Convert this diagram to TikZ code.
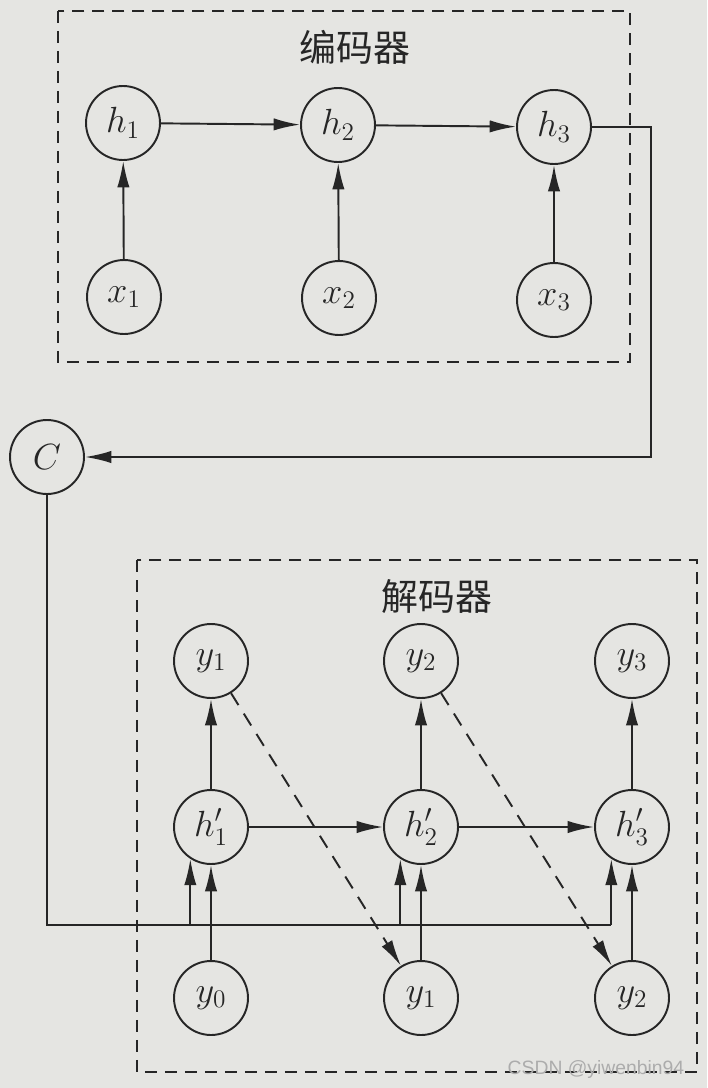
\documentclass[tikz,border=0pt]{standalone}
\usepackage{fontspec}
\newfontfamily\cjk{Noto Sans CJK SC}
\newfontfamily\wmfont{Liberation Sans}
\usepackage{tikz}
\usetikzlibrary{arrows.meta}
\definecolor{paper}{RGB}{229,229,226}
\definecolor{ink}{RGB}{38,38,38}
\tikzset{cir/.style={circle,draw=ink,line width=1.1pt,minimum size=1.48cm,inner sep=0pt,font=\fontsize{21}{25}\selectfont},
  frame/.style={draw=ink,line width=1.1pt,dash pattern=on 0.24cm off 0.16cm},
  title/.style={font=\cjk\fontsize{21}{25}\selectfont,text=ink}}

\begin{document}
\begin{tikzpicture}[x=0.02cm,y=-0.02cm,>={Latex[length=15pt,width=7pt]},line width=1.1pt,color=ink]
\fill[paper] (0,0) rectangle (707,1088);\useasboundingbox (0,0) rectangle (707,1088);
% encoder
\draw[frame] (58,11) rectangle (630,362);
\node[title] (enc) at (355,47){编码器};
\node[cir] (h1) at (123,123){$h_1$};\node[cir] (h2) at (338,125){$h_2$};\node[cir] (h3) at (554,127){$h_3$};
\node[cir] (x1) at (124,297){$x_1$};\node[cir] (x2) at (339,298){$x_2$};\node[cir] (x3) at (554,300){$x_3$};
\foreach \i in {1,2,3}{\draw[->] (x\i) -- (h\i);}
\draw[->] (h1) -- (h2);\draw[->] (h2) -- (h3);
% context vector
\node[cir] (C) at (47,457){$C$};
\coordinate (turn) at (651,457);
\draw[->] (h3.east) -- (h3.east -| turn) -- (turn) -- (C);
% decoder
\draw[frame] (137,560) rectangle (697,1072);
\node[title] (dec) at (437,597){解码器};
\foreach \n/\x in {1/211,2/421,3/632}{
  \node[cir] (yt\n) at (\x,661){$y_\n$};\node[cir] (hd\n) at (\x,827){$h'_\n$};
  \draw[->] (hd\n) -- (yt\n);}
\foreach \n/\m/\x in {0/1/211,1/2/421,2/3/632}{
  \node[cir] (yb\n) at (\x,998){$y_\n$};\draw[->] (yb\n) -- (hd\m);}
\draw[->] (hd1) -- (hd2);\draw[->] (hd2) -- (hd3);
\draw[->,dash pattern=on 0.28cm off 0.2cm] (yt1) -- (yb1);
\draw[->,dash pattern=on 0.28cm off 0.2cm] (yt2) -- (yb2);
% C feeds every decoder step
\coordinate (bus) at (50,925);
\draw (C) -- (C |- bus) -- (bus -| hd3.-123);
\foreach \n in {1,2,3}{\draw[->] (bus -| hd\n.-123) -- (hd\n.-123);}
\node[font=\wmfont\fontsize{11}{13}\selectfont,text=gray!65,anchor=east] (wm) at (691,1069){CSDN @yiwenbin94};
\end{tikzpicture}
\end{document}
